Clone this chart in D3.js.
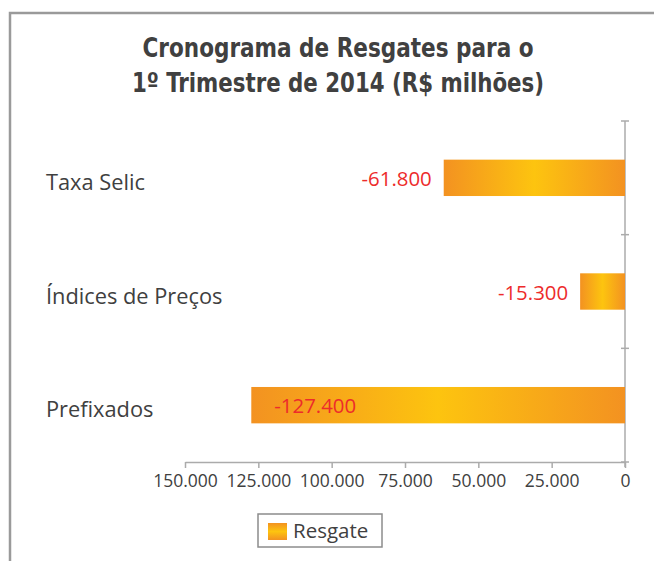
<!DOCTYPE html>
<html><head><meta charset="utf-8">
<script src="https://cdn.jsdelivr.net/npm/d3@7"></script>
<style>
html,body{margin:0;padding:0;background:#fff;}
svg{display:block;}
</style></head>
<body>
<svg id="c" width="654" height="561"></svg>
<script>
const categories = ["Taxa Selic", "Índices de Preços", "Prefixados"];
const values = [-61800, -15300, -127400];
const tickValues = [-150000, -125000, -100000, -75000, -50000, -25000, 0];
const seriesName = "Resgate";
const titleLines = ["Cronograma de Resgates para o", "1º Trimestre de 2014 (R$ milhões)"];

const loc = d3.formatLocale({decimal: ",", thousands: ".", grouping: [3], currency: ["R$", ""]});
const fmt = loc.format(",d");
const bodyFont = "'Segoe UI','Open Sans',sans-serif";

const svg = d3.select("#c");
const defs = svg.append("defs");
const g1 = defs.append("linearGradient").attr("id", "barGrad").attr("x1", "0").attr("x2", "1").attr("y1", "0").attr("y2", "0");
g1.append("stop").attr("offset", "0%").attr("stop-color", "#F39221");
g1.append("stop").attr("offset", "50%").attr("stop-color", "#FDC40F");
g1.append("stop").attr("offset", "100%").attr("stop-color", "#F39221");
const g2 = defs.append("linearGradient").attr("id", "legGrad").attr("x1", "0").attr("x2", "0").attr("y1", "0").attr("y2", "1");
g2.append("stop").attr("offset", "0%").attr("stop-color", "#F39221");
g2.append("stop").attr("offset", "50%").attr("stop-color", "#FDC40F");
g2.append("stop").attr("offset", "100%").attr("stop-color", "#F39221");

// frame
svg.append("path").attr("d", "M10,570 L10,13 L660,13").attr("fill", "none").attr("stroke", "#9a9a9a").attr("stroke-width", 2.5);

// title
const titleLens = [391, 412];
titleLines.forEach((t, i) => svg.append("text").attr("text-anchor", "middle").attr("fill", "#404040")
  .style("font-family", "'DejaVu Sans Condensed','Liberation Sans Narrow',Roboto,sans-serif").style("font-weight", "bold").style("font-size", "26px")
  .attr("x", 338).attr("y", 57 + i * 35)
  .attr("textLength", titleLens[i]).attr("lengthAdjust", "spacingAndGlyphs")
  .text(t));

const x = d3.scaleLinear().domain([-150000, 0]).range([185, 625]);
const y = d3.scaleBand().domain(categories).range([121, 462]).paddingInner(0.68).paddingOuter(0.34);

const axisColor = "#ababab";
// x axis
const xa = svg.append("g").attr("transform", "translate(0,462)")
  .call(d3.axisBottom(x).tickValues(tickValues).tickSize(6).tickSizeOuter(0).tickPadding(6).tickFormat(d => fmt(Math.abs(d))));
xa.select(".domain").attr("stroke", axisColor).attr("stroke-width", 1.5);
xa.selectAll(".tick line").attr("stroke", axisColor).attr("stroke-width", 1.5);
xa.selectAll("text").attr("fill", "#404040").attr("y", 25).attr("dy", 0)
  .style("font-family", bodyFont).style("font-size", "17.5px");

// y axis at zero
const yEdges = [121, 121 + (462 - 121) / 3, 121 + 2 * (462 - 121) / 3, 462];
svg.append("line").attr("x1", x(0)).attr("x2", x(0)).attr("y1", 121).attr("y2", 467).attr("stroke", axisColor).attr("stroke-width", 1.5);
svg.selectAll(".ytick").data(yEdges).enter().append("line")
  .attr("x1", x(0) - 4).attr("x2", x(0) + 4).attr("y1", d => d).attr("y2", d => d)
  .attr("stroke", axisColor).attr("stroke-width", 1.5);

// category labels
svg.selectAll(".cat").data(categories).enter().append("text")
  .attr("x", 46).attr("y", d => y(d) + y.bandwidth() / 2 + 12)
  .attr("fill", "#404040").style("font-family", bodyFont).style("font-size", "21.8px")
  .text(d => d);

// bars
const data = categories.map((c, i) => ({c, v: values[i]}));
svg.selectAll(".bar").data(data).enter().append("rect")
  .attr("x", d => x(d.v)).attr("width", d => x(0) - x(d.v))
  .attr("y", d => y(d.c)).attr("height", y.bandwidth())
  .attr("fill", "url(#barGrad)");

// labels
svg.selectAll(".lbl").data(data).enter().append("text")
  .attr("y", d => y(d.c) + y.bandwidth() / 2 + 8)
  .attr("fill", "#ED2B2B").style("font-family", bodyFont).style("font-size", "20.4px")
  .text(d => "-" + fmt(Math.abs(d.v)))
  .each(function(d) {
    const t = d3.select(this);
    const w = this.getComputedTextLength();
    const xl = x(d.v) - 12;
    if (xl - w < x.range()[0]) {
      t.attr("x", x(d.v) + 23).attr("text-anchor", "start");
    } else {
      t.attr("x", xl).attr("text-anchor", "end");
    }
  });

// legend
const lg = svg.append("g");
lg.append("rect").attr("x", 258).attr("y", 514).attr("width", 124).attr("height", 33).attr("fill", "#fff").attr("stroke", "#8c8c8c").attr("stroke-width", 1.5);
lg.append("rect").attr("x", 268).attr("y", 523).attr("width", 19).attr("height", 17).attr("fill", "url(#legGrad)");
lg.append("text").attr("x", 293).attr("y", 538).attr("fill", "#404040")
  .style("font-family", bodyFont).style("font-size", "20.5px").text(seriesName);
</script>
</body></html>
